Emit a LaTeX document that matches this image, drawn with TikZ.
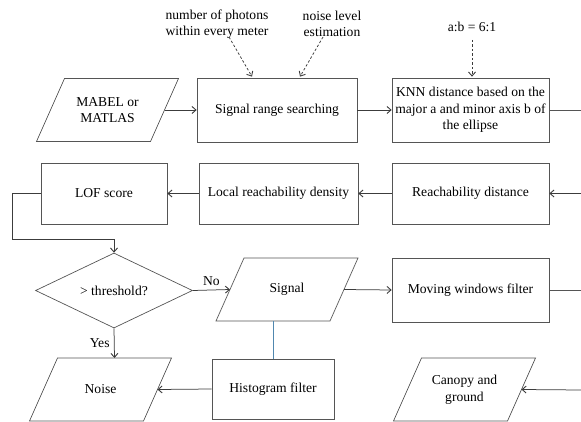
\documentclass[tikz,border=0pt]{standalone}
\usepackage{fontspec}
\setmainfont{Liberation Serif}
\usetikzlibrary{arrows.meta,calc,shapes.geometric}
\definecolor{boxgray}{RGB}{85,85,85}
\definecolor{linkblue}{RGB}{80,135,175}
\tikzset{
  box/.style={draw=boxgray,line width=0.7pt},
  rbox/.style={box,rectangle,align=center,inner sep=1pt},
  txt/.style={align=center,inner sep=0pt},
  arr/.style={draw=boxgray!70!black,line width=0.75pt,-{Straight Barb[length=4pt,width=7pt,line width=0.9pt]}},
  lnk/.style={draw=boxgray,line width=0.75pt},
  darr/.style={arr,dashed,dash pattern=on 2.5pt off 2pt},
}
\newcommand\myparal[1]{\draw[box] ($(#1)+(-71,31.5)$) -- ($(#1)+(-43,-31.5)$) -- ($(#1)+(71,-31.5)$) -- ($(#1)+(43,31.5)$) -- cycle;}
\begin{document}
\begin{tikzpicture}[x=1pt,y=-1pt,every node/.style={font=\fontsize{13.6}{16.5}\selectfont}]
\useasboundingbox (0,0) rectangle (581,422);
% row 1
\node[txt] (mabel) at (107.5,110) {MABEL or\\MATLAS};
\myparal{mabel}
\node[rbox,minimum width=160,minimum height=64] (srs) at (277,110) {Signal range searching};
\node[rbox,minimum width=157,minimum height=64] (knn) at (470.5,110) {KNN distance based on the\\major a and minor axis b of\\the ellipse};
% annotations
\node[txt] (nph) at (217,24) {number of photons\\within every meter};
\node[txt] (nle) at (332,24) {noise level\\estimation};
\node[txt] (ab) at (472,27) {a:b = 6:1};
\coordinate (nphs) at (229,37);
\coordinate (nles) at (323,37);
\coordinate (abs) at (472,40);
\draw[darr] (nphs) -- ($(srs.north)+(-25,-1)$);
\draw[darr] (nles) -- ($(srs.north)+(23,-1)$);
\draw[darr] (abs) -- ($(knn.north)+(1.5,-1)$);
% row 2
\node[rbox,minimum width=126,minimum height=61] (lof) at (104,193.5) {LOF score};
\node[rbox,minimum width=159,minimum height=61] (lrd) at (278.5,193.5) {Local reachability density};
\node[rbox,minimum width=157,minimum height=61] (rd) at (470.5,193.5) {Reachability distance};
% row 3
\node[diamond,box,minimum width=157,minimum height=75,aspect=2.1,inner sep=0pt] (thr) at (114,290.5) {};
\node[txt] at (thr.center) {> threshold?};
\node[txt] (sig) at (287,289.5) {Signal};
\myparal{sig}
\node[rbox,minimum width=157,minimum height=64] (mwf) at (470.5,290) {Moving windows filter};
% row 4
\node[txt] (noise) at (100.5,389.5) {Noise};
\myparal{noise}
\node[rbox,minimum width=122,minimum height=60] (hist) at (273,389) {Histogram filter};
\node[txt] (can) at (464.5,389.5) {Canopy and\\ground};
\myparal{can}
% border coordinates
\coordinate (e1) at (581,110);
\coordinate (e2) at (581,193.5);
\coordinate (e3) at (581,290);
\coordinate (e4) at (581,390);
% connectors
\draw[arr] ($(mabel)+(57,0)$) -- (srs.west);
\draw[arr] (srs.east) -- (knn.west);
\draw[lnk] (knn.east) -- (e1);
\draw[arr] (e2) -- (rd.east);
\draw[arr] (rd.west) -- (lrd.east);
\draw[arr] (lrd.west) -- (lof.east);
\draw[arr] (lof.west) -- (12,193.5) -- (12,239) -- (114,239) -- (thr.north);
\draw[arr] (thr.east) -- node[above,pos=0.5,yshift=1pt] (no) {No} ($(sig)+(-57,0)$);
\draw[arr] ($(sig)+(57,0)$) -- (mwf.west);
\draw[lnk] (mwf.east) -- (e3);
\draw[arr] (thr.south) -- node[left,pos=0.5,xshift=-1pt] (yes) {Yes} ($(noise)+(14,-31.5)$);
\draw[draw=linkblue,line width=0.75pt] ($(sig)+(-14,31.5)$) -- (hist.north);
\draw[arr] (hist.west) -- ($(noise)+(57,0)$);
\draw[arr] (e4) -- ($(can)+(57,0)$);
\end{tikzpicture}
\end{document}
